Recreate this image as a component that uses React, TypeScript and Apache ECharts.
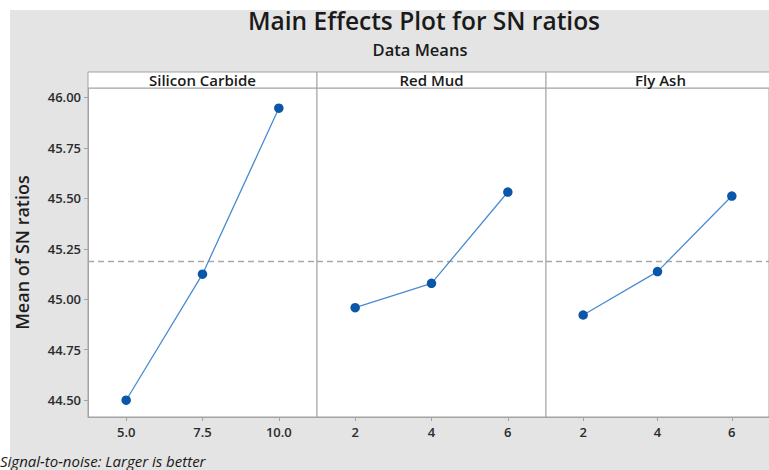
import React, { useEffect, useRef } from "react";
import * as echarts from "echarts";

const panelNames = ["Silicon Carbide", "Red Mud", "Fly Ash"];
const siliconCarbideLevels = [5.0, 7.5, 10.0];
const siliconCarbideMeans = [44.5, 45.124, 45.946];
const redMudLevels = [2, 4, 6];
const redMudMeans = [44.958, 45.079, 45.531];
const flyAshLevels = [2, 4, 6];
const flyAshMeans = [44.922, 45.137, 45.511];
const yTicks = [44.5, 44.75, 45.0, 45.25, 45.5, 45.75, 46.0];
const xRanges = [
  [3.75, 11.25],
  [1, 7],
  [1, 7],
];

const FONT = "'Open Sans', 'Noto Sans', sans-serif";

export default function App() {
  const ref = useRef<HTMLDivElement>(null);

  useEffect(() => {
    if (!ref.current) return;
    const chart = echarts.init(ref.current, undefined, { renderer: "svg" });

    const levels = [siliconCarbideLevels, redMudLevels, flyAshLevels];
    const means = [siliconCarbideMeans, redMudMeans, flyAshMeans];
    const all = ([] as number[]).concat(...means);
    const grand = all.reduce((a, b) => a + b, 0) / all.length;

    const panelLeft = [88, 317, 546];
    const panelW = 229;
    const top = 88;
    const height = 329;
    const gridColor = "#a3a3a3";

    const grids = panelLeft.map((l) => ({
      left: l,
      top,
      width: panelW,
      height,
      show: true,
      backgroundColor: "#ffffff",
      borderColor: gridColor,
      borderWidth: 1,
    }));

    const xAxes = panelLeft.map((_, i) => ({
      type: "value",
      gridIndex: i,
      min: xRanges[i][0],
      max: xRanges[i][1],
      axisLine: { show: true, lineStyle: { color: gridColor, width: 1 } },
      axisTick: {
        show: true,
        length: 4,
        inside: false,
        customValues: levels[i],
        lineStyle: { color: gridColor },
      },
      axisLabel: {
        show: true,
        customValues: levels[i],
        margin: 8,
        fontFamily: FONT,
        fontSize: 13,
        fontWeight: 600,
        color: "#2b2b2b",
        formatter: (v: number) => (i === 0 ? v.toFixed(1) : String(v)),
      },
      splitLine: { show: false },
    }));

    const yAxes = panelLeft.map((_, i) => ({
      type: "value",
      gridIndex: i,
      min: 44.417,
      max: 46.046,
      name: i === 0 ? "Mean of SN ratios" : "",
      nameLocation: "middle",
      nameRotate: 90,
      nameGap: 57,
      nameTextStyle: {
        fontFamily: FONT,
        fontSize: 18,
        fontWeight: 600,
        color: "#1e1e1e",
      },
      axisLine: { show: i === 0, lineStyle: { color: gridColor, width: 1 } },
      axisTick: {
        show: i === 0,
        length: 4,
        customValues: yTicks,
        lineStyle: { color: gridColor },
      },
      axisLabel: {
        show: i === 0,
        customValues: yTicks,
        margin: 7,
        fontFamily: FONT,
        fontSize: 13,
        fontWeight: 600,
        color: "#2b2b2b",
        formatter: (v: number) => v.toFixed(2),
      },
      splitLine: { show: false },
    }));

    const series = panelLeft.map((_, i) => ({
      type: "line",
      xAxisIndex: i,
      yAxisIndex: i,
      data: levels[i].map((x, j) => [x, means[i][j]]),
      symbol: "circle",
      symbolSize: 9.5,
      itemStyle: { color: "#0a56a8" },
      lineStyle: { color: "#4a8ccf", width: 1.3 },
      z: 3,
      markLine: {
        silent: true,
        symbol: "none",
        label: { show: false },
        lineStyle: { color: "#a8a8a8", type: [6, 4], width: 1.3 },
        data: [{ yAxis: grand }],
        z: 2,
      },
    }));

    const graphic: any[] = [
      {
        type: "rect",
        shape: { x: 10, y: 10, width: 759, height: 460 },
        style: { fill: "#e4e4e4" },
        z: -10,
        silent: true,
      },
      {
        type: "text",
        x: 424,
        y: 20,
        style: {
          text: "Main Effects Plot for SN ratios",
          fontFamily: FONT,
          fontSize: 24.5,
          fontWeight: 600,
          lineHeight: 24,
          fill: "#1a1a1a",
          align: "center",
          verticalAlign: "middle",
        },
      },
      {
        type: "text",
        x: 420,
        y: 49,
        style: {
          text: "Data Means",
          fontFamily: FONT,
          fontSize: 16.5,
          fontWeight: 600,
          lineHeight: 17,
          fill: "#1a1a1a",
          align: "center",
          verticalAlign: "middle",
        },
      },
      {
        type: "text",
        x: 0,
        y: 461,
        style: {
          text: "Signal-to-noise: Larger is better",
          fontFamily: FONT,
          fontSize: 15,
          fontStyle: "italic",
          fill: "#1a1a1a",
          align: "left",
          verticalAlign: "middle",
        },
      },
    ];
    panelLeft.forEach((l, i) => {
      graphic.push({
        type: "rect",
        shape: { x: l, y: 72, width: panelW, height: 16 },
        style: { fill: "#ffffff", stroke: gridColor, lineWidth: 1 },
        z: 5,
      });
      graphic.push({
        type: "text",
        x: l + panelW / 2,
        y: 80,
        style: {
          text: panelNames[i],
          fontFamily: FONT,
          fontSize: 15,
          fontWeight: 600,
          fill: "#1a1a1a",
          align: "center",
          verticalAlign: "middle",
        },
        z: 6,
      });
    });

    chart.setOption({
      animation: false,
      backgroundColor: "#ffffff",
      grid: grids,
      xAxis: xAxes,
      yAxis: yAxes,
      series,
      graphic,
    } as any);

    return () => chart.dispose();
  }, []);

  return (
    <div
      ref={ref}
      style={{ position: "absolute", left: 0, top: 0, width: 769, height: 470 }}
    />
  );
}
